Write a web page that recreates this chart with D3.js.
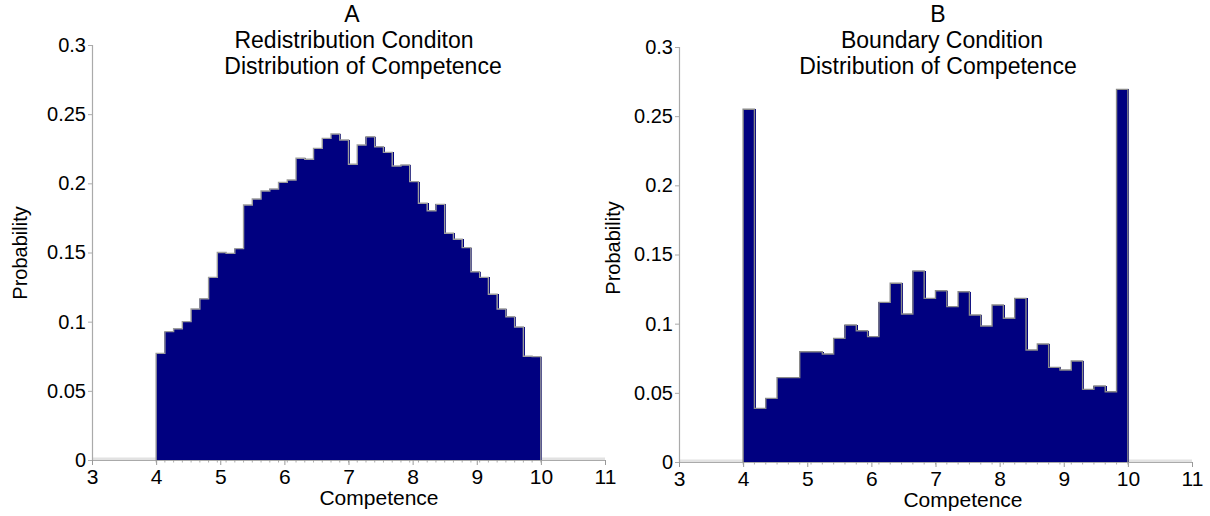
<!DOCTYPE html>
<html>
<head>
<meta charset="utf-8">
<script src="https://cdn.jsdelivr.net/npm/d3@7/dist/d3.min.js"></script>
<style>
  html, body { margin: 0; padding: 0; background: #fff; }
  svg { display: block; }
  text { font-family: "Liberation Sans", Arial, sans-serif; fill: #000; }
</style>
</head>
<body>
<svg id="chart" width="1210" height="516"></svg>
<script>
// Competence histograms: probability per bin, bins spanning 4..10
const xTicks = [3, 4, 5, 6, 7, 8, 9, 10, 11];
const yTicks = [0, 0.05, 0.1, 0.15, 0.2, 0.25, 0.3];

const titleA = ["A", "Redistribution Conditon", "Distribution of Competence"];
const titleB = ["B", "Boundary Condition", "Distribution of Competence"];

const redistribution = [
  0.0771, 0.0928, 0.0949, 0.1000, 0.1092, 0.1166, 0.1320, 0.1500, 0.1494, 0.1528,
  0.1843, 0.1887, 0.1945, 0.1959, 0.2007, 0.2024, 0.2181, 0.2174, 0.2253, 0.2325,
  0.2357, 0.2313, 0.2138, 0.2277, 0.2337, 0.2265, 0.2224, 0.2125, 0.2133, 0.2012,
  0.1856, 0.1802, 0.1848, 0.1639, 0.1596, 0.1535, 0.1361, 0.1320, 0.1198, 0.1092,
  0.1036, 0.0961, 0.0750, 0.0747
];

const boundary = [
  0.2550, 0.0388, 0.0460, 0.0610, 0.0610, 0.0797, 0.0797, 0.0781, 0.0894, 0.0990,
  0.0949, 0.0906, 0.1154, 0.1292, 0.1070, 0.1381, 0.1183, 0.1238, 0.1123, 0.1231,
  0.1063, 0.0983, 0.1135, 0.1039, 0.1183, 0.0810, 0.0853, 0.0684, 0.0665, 0.0730,
  0.0525, 0.0549, 0.0508, 0.2694
];

const binRange = [4, 10];

const svg = d3.select("#chart");

function drawPanel(cfg) {
  const x = d3.scaleLinear().domain([3, 11]).range([cfg.left, cfg.right]);
  const y = d3.scaleLinear().domain([0, 0.3]).range([cfg.bottom, cfg.top]);
  const g = svg.append("g");
  const n = cfg.values.length;
  const w = (binRange[1] - binRange[0]) / n;
  const bins = cfg.values.map((v, i) => ({ x0: binRange[0] + i * w, x1: binRange[0] + (i + 1) * w, v }));

  // zero-level baseline outside the binned range
  [[3, 4], [10, 11]].forEach(([a, b]) => {
    g.append("line").attr("x1", x(a)).attr("x2", x(b)).attr("y1", y(0) - 1).attr("y2", y(0) - 1)
      .attr("stroke", "#e2e2e2").attr("stroke-width", 3);
  });

  // filled bins (slightly overlapped so neighbouring bins leave no seam)
  g.selectAll("rect.bin").data(bins).join("rect")
    .attr("class", "bin")
    .attr("x", d => Math.floor(x(d.x0)))
    .attr("width", d => Math.ceil(x(d.x1)) - Math.floor(x(d.x0)) + 1)
    .attr("y", d => y(d.v))
    .attr("height", d => y(0) - y(d.v))
    .attr("fill", "#000080")
    .attr("shape-rendering", "crispEdges");

  // stepped outline along the top of the bins
  const pts = [[binRange[0], 0]];
  bins.forEach(d => { pts.push([d.x0, d.v]); pts.push([d.x1, d.v]); });
  pts.push([binRange[1], 0]);
  g.append("path")
    .attr("d", d3.line().x(p => x(p[0])).y(p => y(p[1]))(pts))
    .attr("fill", "none")
    .attr("stroke", cfg.edge)
    .attr("stroke-width", 1.4)
    .attr("stroke-linejoin", "miter");

  // y axis
  const yAxis = d3.axisLeft(y).tickValues(yTicks).tickSize(4).tickPadding(2)
    .tickFormat(d => d === 0 ? "0" : String(+d.toFixed(2)));
  const ya = g.append("g").attr("transform", `translate(${cfg.left},0)`).call(yAxis);
  ya.select(".domain").attr("stroke", "#aaa").attr("stroke-width", 1.2);
  ya.selectAll(".tick line").attr("stroke", "#aaa");
  ya.selectAll(".tick text").style("font-size", "20px")
    .style("font-family", '"Liberation Sans", Arial, sans-serif').attr("fill", "#000");

  // x axis
  const xAxis = d3.axisBottom(x).tickValues(xTicks).tickSize(5).tickPadding(4).tickSizeOuter(0)
    .tickFormat(d3.format("d"));
  const xa = g.append("g").attr("transform", `translate(0,${cfg.bottom})`).call(xAxis);
  xa.select(".domain").attr("stroke", "#aaa").attr("stroke-width", 1.2);
  xa.selectAll(".tick line").attr("stroke", "#999");
  xa.selectAll(".tick text").style("font-size", "21px")
    .style("font-family", '"Liberation Sans", Arial, sans-serif').attr("fill", "#000");

  // minor ticks at bin edges
  const minor = d3.range(n + 1).map(i => binRange[0] + i * w);
  g.append("g").selectAll("line").data(minor).join("line")
    .attr("x1", d => x(d)).attr("x2", d => x(d))
    .attr("y1", cfg.bottom).attr("y2", cfg.bottom + 2.5)
    .attr("stroke", "#999").attr("stroke-width", 0.8);

  // three-line panel title
  cfg.title.forEach((t, i) => {
    g.append("text").attr("x", cfg.titleX[i]).attr("y", cfg.titleY[i])
      .attr("text-anchor", "middle").style("font-size", "23px").text(t);
  });

  // axis titles
  g.append("text").attr("x", cfg.xLabel[0]).attr("y", cfg.xLabel[1])
    .attr("text-anchor", "middle").style("font-size", "21px").text("Competence");
  g.append("text")
    .attr("transform", `translate(${cfg.yLabel[0]},${cfg.yLabel[1]}) rotate(-90)`)
    .attr("text-anchor", "middle").style("font-size", "20px").text("Probability");
}

drawPanel({
  left: 92, right: 605, top: 45, bottom: 460,
  values: redistribution, edge: "#9c9c9c",
  title: titleA, titleX: [352, 354, 363], titleY: [22, 48, 74],
  xLabel: [379, 505], yLabel: [27, 253]
});

drawPanel({
  left: 679, right: 1192, top: 47, bottom: 462,
  values: boundary, edge: "#8a8a8a",
  title: titleB, titleX: [938, 942, 938], titleY: [22, 48, 74],
  xLabel: [963, 507], yLabel: [620, 248]
});
</script>
</body>
</html>
